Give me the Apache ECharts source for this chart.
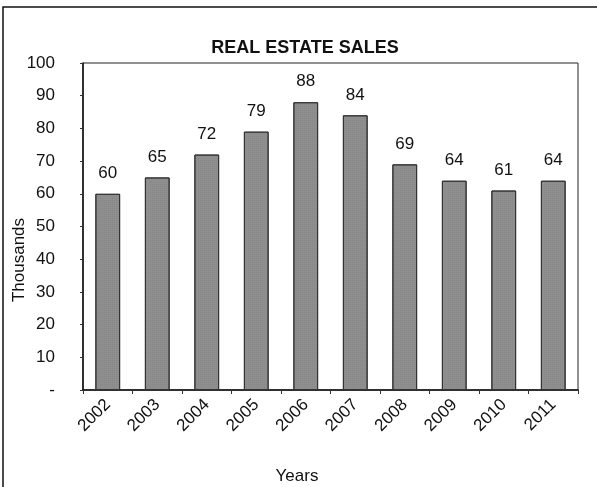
<!DOCTYPE html>
<html>
<head>
<meta charset="utf-8">
<script src="https://cdn.jsdelivr.net/npm/echarts@6/dist/echarts.min.js"></script>
<style>html,body{margin:0;padding:0;background:#fff}#c{width:597px;height:487px}</style>
</head>
<body>
<div id="c"></div>
<script>
const categories = ['2002','2003','2004','2005','2006','2007','2008','2009','2010','2011'];
const sales = [60, 65, 72, 79, 88, 84, 69, 64, 61, 64];
const chartTitle = 'REAL ESTATE SALES';
const yName = 'Thousands';
const xName = 'Years';

const chart = echarts.init(document.getElementById('c'));
const font = 'Liberation Sans, Arial, sans-serif';
chart.setOption({
  animation: false,
  backgroundColor: '#fff',
  title: {
    text: chartTitle, left: 300, top: 34, textAlign: 'center',
    textStyle: {fontFamily: font, fontSize: 18, fontWeight: 'bold', color: '#111'}
  },
  grid: {left: 83, right: 19, top: 63, bottom: 97, containLabel: false, outerBoundsMode: 'none',
    show: true, borderColor: '#222', borderWidth: 1, backgroundColor: 'transparent'},
  xAxis: {
    type: 'category', data: categories,
    axisLine: {lineStyle: {color: '#111', width: 1.5}},
    axisTick: {show: true, inside: false, length: 4, lineStyle: {color: '#333'}},
    axisLabel: {rotate: 45, margin: 12, fontFamily: font, fontSize: 17, color: '#111'}
  },
  yAxis: {
    type: 'value', min: 0, max: 100, interval: 10,
    splitLine: {show: false},
    axisLine: {show: true, lineStyle: {color: '#111', width: 1.5}},
    axisTick: {show: true, length: 3, lineStyle: {color: '#333'}},
    axisLabel: {margin: 28, fontFamily: font, fontSize: 17, color: '#111',
      formatter: v => v === 0 ? '-' : String(v)}
  },
  series: [{
    type: 'bar', data: sales, barWidth: '50%',
    itemStyle: {color: '#8f8f8f', borderColor: '#333', borderWidth: 1,
      decal: {symbol: 'rect', symbolSize: 0.5, color: 'rgba(60,60,60,0.35)', dashArrayX: [1, 1], dashArrayY: [1, 1], rotation: 0}},
    label: {show: true, position: 'top', distance: 12, fontFamily: font, fontSize: 17, color: '#111'}
  }],
  graphic: [
    {type: 'rect', shape: {x: 3, y: 7, width: 700, height: 600}, style: {fill: 'none', stroke: '#111', lineWidth: 1.5}, silent: true},
    {type: 'text', x: 297, y: 476, style: {text: xName, fontFamily: font, fontSize: 17, fill: '#111', textAlign: 'center', textVerticalAlign: 'middle'}},
    {type: 'text', x: 19, y: 260, rotation: Math.PI / 2, style: {text: yName, fontFamily: font, fontSize: 17, fill: '#111', textAlign: 'center', textVerticalAlign: 'middle'}}
  ]
});
</script>
</body>
</html>
